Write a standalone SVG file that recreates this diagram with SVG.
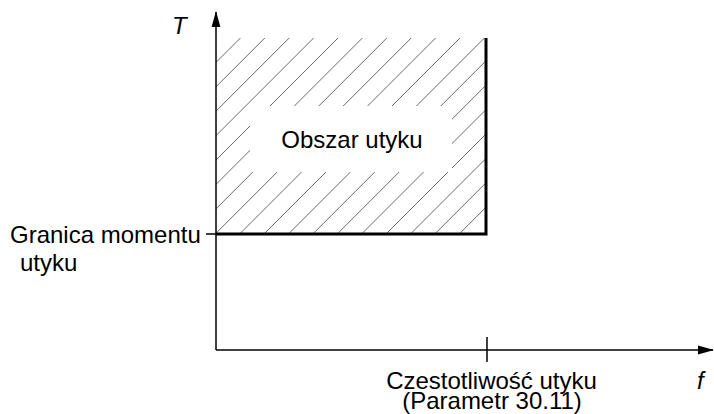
<svg xmlns="http://www.w3.org/2000/svg" width="714" height="414" viewBox="0 0 714 414">
<style>
text{font-family:"Liberation Sans",Arial,sans-serif;font-size:24px;fill:#000}
.it{font-style:italic}
.axis{stroke:#000;stroke-width:1.5;fill:none}
.bold{stroke:#000;stroke-width:3;fill:none}
.hatch line{stroke:#444;stroke-width:0.8}
</style>
<defs>
<marker id="ah" markerWidth="16" markerHeight="10" refX="15" refY="5" orient="auto" markerUnits="userSpaceOnUse">
<path d="M0,0.6 L16,5 L0,9.4 Z" fill="#000"/>
</marker>
<clipPath id="cl"><rect x="216" y="38" width="270" height="195"/></clipPath>
</defs>
<g id="region">
<g class="hatch" clip-path="url(#cl)">
<line x1="216" y1="62.4" x2="240.4" y2="38"/>
<line x1="216" y1="86.8" x2="264.8" y2="38"/>
<line x1="216" y1="111.2" x2="289.2" y2="38"/>
<line x1="216" y1="135.6" x2="313.6" y2="38"/>
<line x1="216" y1="160" x2="338" y2="38"/>
<line x1="216" y1="184.4" x2="362.4" y2="38"/>
<line x1="216" y1="208.8" x2="386.8" y2="38"/>
<line x1="216" y1="233.2" x2="411.2" y2="38"/>
<line x1="240.6" y1="233" x2="435.6" y2="38"/>
<line x1="265" y1="233" x2="460" y2="38"/>
<line x1="289.4" y1="233" x2="484.4" y2="38"/>
<line x1="313.8" y1="233" x2="486" y2="60.8"/>
<line x1="338.2" y1="233" x2="486" y2="85.2"/>
<line x1="362.6" y1="233" x2="486" y2="109.6"/>
<line x1="387" y1="233" x2="486" y2="134"/>
<line x1="411.4" y1="233" x2="486" y2="158.4"/>
<line x1="435.8" y1="233" x2="486" y2="182.8"/>
<line x1="460.2" y1="233" x2="486" y2="207.2"/>
</g>
<rect x="250" y="106" width="202" height="66" fill="#fff"/>
<text x="352" y="148" text-anchor="middle">Obszar utyku</text>
</g>
<g id="connectors">
<line class="axis" x1="216" y1="350" x2="216" y2="12" marker-end="url(#ah)"/>
<line class="axis" x1="216" y1="350" x2="713" y2="350" marker-end="url(#ah)"/>
<line class="axis" x1="206" y1="234" x2="216" y2="234"/>
<line class="axis" x1="487" y1="337" x2="487" y2="362"/>
<polyline class="bold" points="216,234 486,234 486,38"/>
</g>
<g id="labels">
<text class="it" x="172" y="34">T</text>
<text x="10" y="243">Granica momentu</text>
<text x="20" y="271">utyku</text>
<text x="491.5" y="389" text-anchor="middle">Czestotliwość utyku</text>
<text x="492" y="409" text-anchor="middle">(Parametr 30.11)</text>
<text class="it" x="697" y="389">f</text>
</g>
</svg>
